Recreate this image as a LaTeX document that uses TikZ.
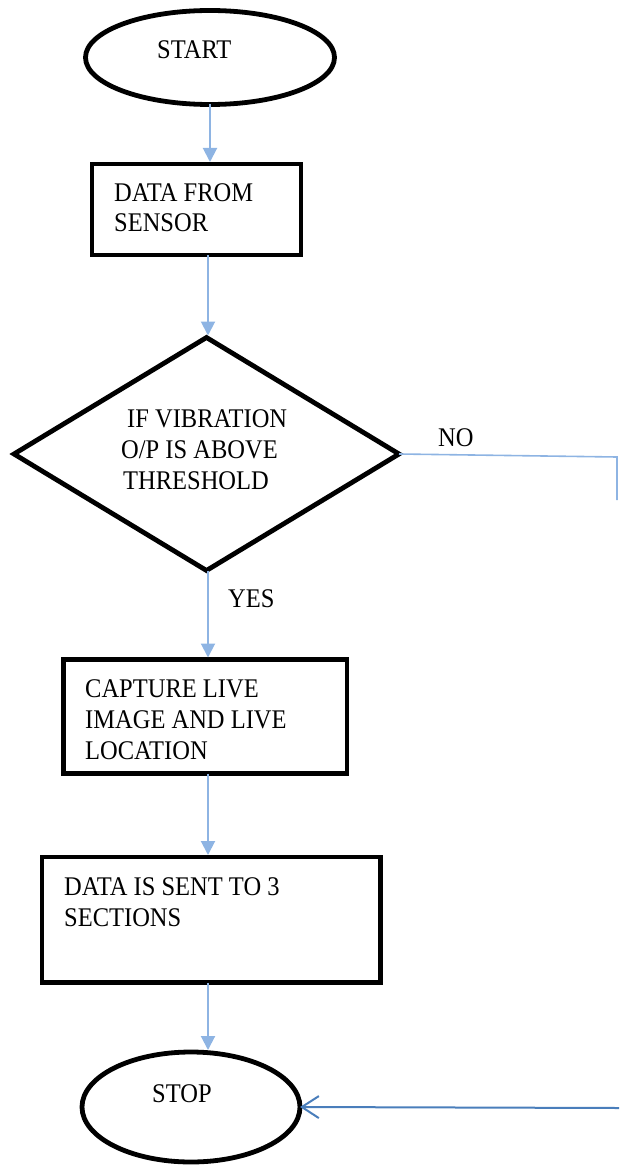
\documentclass[tikz,border=0pt]{standalone}
\usepackage{fontspec}
\setmainfont{Liberation Serif}
\usetikzlibrary{shapes.geometric,arrows.meta}
\definecolor{lblue}{HTML}{8EB4E3}
\definecolor{dblue}{HTML}{4A7EBB}
\begin{document}
\begin{tikzpicture}[x=1pt,y=-1pt,
  shp/.style={draw=black, line width=4.8pt, inner sep=0pt, outer sep=0pt},
  term/.style={shp, ellipse},
  proc/.style={shp, rectangle},
  dec/.style={shp, diamond},
  txt/.style={font=\fontsize{24.5}{28}\selectfont, inner sep=0pt, yscale=1.1, transform shape, anchor=base west},
  flow/.style={draw=lblue, line width=2pt, shorten >=2pt, -{Triangle[length=14pt,width=14pt]}},
  noline/.style={draw=lblue, line width=1.6pt},
  back/.style={draw=dblue, line width=2pt, -{Straight Barb[length=17pt,width=22pt,line width=2pt]}},
]
\useasboundingbox (0,0) rectangle (619,1166);
% shapes
\node[term, minimum width=249pt, minimum height=94pt] (start) at (210,57.5) {};
\node[proc, minimum width=209pt, minimum height=91pt] (b1) at (196.5,209.5) {};
\node[dec, minimum width=385pt, minimum height=233pt] (d) at (206.5,454) {};
\node[proc, minimum width=283.5pt, minimum height=114pt] (b3) at (205.25,716.5) {};
\node[proc, minimum width=338.5pt, minimum height=125.5pt] (b4) at (211.25,919.75) {};
\node[term, minimum width=218pt, minimum height=110pt] (stop) at (191,1107) {};
% texts
\node[txt] (tstart) at (157,59) {START};
\node[txt] (t1a) at (114,202) {DATA FROM};
\node[txt] (t1b) at (114,232) {SENSOR};
\node[txt] (tda) at (127,427) {IF VIBRATION};
\node[txt] (tdb) at (121,458) {O/P IS ABOVE};
\node[txt] (tdc) at (123,489) {THRESHOLD};
\node[txt] (tyes) at (228,607) {YES};
\node[txt] (tno) at (438,446) {NO};
\node[txt] (t3a) at (85,697) {CAPTURE LIVE};
\node[txt] (t3b) at (85,728) {IMAGE AND LIVE};
\node[txt] (t3c) at (85,759) {LOCATION};
\node[txt] (t4a) at (64,895) {DATA IS SENT TO 3};
\node[txt] (t4b) at (64,926) {SECTIONS};
\node[txt] (tstop) at (152,1102) {STOP};
% connectors
\coordinate (ax) at (208,0);
\coordinate (n1) at (617,457);
\coordinate (n2) at (617,500);
\coordinate (r) at (619,1108);
\draw[flow] (start.south) -- (start.south |- b1.north);
\draw[flow] (b1.south -| ax) -- (d.north -| ax);
\draw[flow] (d.south -| ax) -- (b3.north -| ax);
\draw[flow] (b3.south -| ax) -- (b4.north -| ax);
\draw[flow] (b4.south -| ax) -- (stop.north -| ax);
\draw[noline] (d.east) -- (n1) -- (n2);
\draw[back] (r) -- (stop.east);
\end{tikzpicture}
\end{document}
